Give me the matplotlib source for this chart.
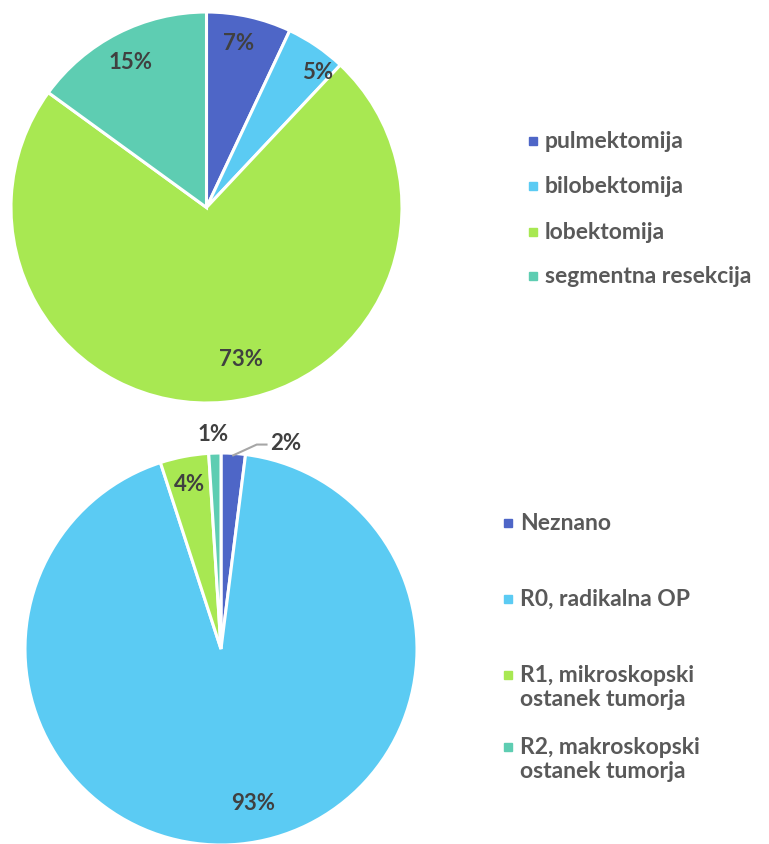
import numpy as np
import matplotlib.pyplot as plt
from matplotlib.patches import Rectangle

plt.rcParams["font.family"] = ["Lato", "DejaVu Sans"]

# top pie: type of resection
top_labels = ["pulmektomija", "bilobektomija", "lobektomija", "segmentna resekcija"]
top_values = [7, 5, 73, 15]
top_colors = ["#4e66c7", "#5bcbf3", "#a8e852", "#5ecdb2"]

# bottom pie: resection margin
bot_labels = ["Neznano", "R0, radikalna OP", "R1, mikroskopski\nostanek tumorja",
              "R2, makroskopski\nostanek tumorja"]
bot_values = [2, 93, 4, 1]
bot_colors = ["#4e66c7", "#5bcbf3", "#a8e852", "#5ecdb2"]

# label placement (fraction of radius, angular nudge in degrees)
top_lab_r = [0.86, 0.90, 0.79, 0.84]
top_lab_shift = [1.5, -5, 7.5, 0.5]
bot_lab_r = [None, 0.80, 0.86, 1.10]
bot_lab_shift = [0, 6.5, 0, 0.3]

W, H = 769, 845
fig = plt.figure(figsize=(W / 100, H / 100), dpi=100)

text_col = "#404040"
leg_col = "#595959"


def pie_axes(cx, cy, r):
    ax = fig.add_axes([(cx - r) / W, 1 - (cy + r) / H, 2 * r / W, 2 * r / H])
    return ax


def draw_pie(ax, values, colors, lab_r, lab_shift):
    wedges, _ = ax.pie(values, colors=colors, startangle=90, counterclock=False,
                       radius=1, wedgeprops=dict(edgecolor="white", linewidth=2.2))
    ax.set_xlim(-1, 1)
    ax.set_ylim(-1, 1)
    ax.set_aspect("equal")
    ax.axis("off")
    for w, v, rr, sh in zip(wedges, values, lab_r, lab_shift):
        if rr is None:
            continue
        mid = np.deg2rad((w.theta1 + w.theta2) / 2 + sh)
        ax.text(rr * np.cos(mid), rr * np.sin(mid), f"{v}%", ha="center", va="center",
                fontsize=16, fontweight="bold", color=text_col, clip_on=False)
    return wedges


def draw_legend(x, ys, labels, colors):
    for y, lab, c in zip(ys, labels, colors):
        fig.patches.append(Rectangle(((x - 4) / W, 1 - (y + 4) / H), 8 / W, 8 / H,
                                     transform=fig.transFigure, color=c))
        fig.text((x + 12) / W, 1 - (y - 11) / H, lab, ha="left", va="top",
                 fontsize=16.5, fontweight="bold", color=leg_col, linespacing=1.2)


ax1 = pie_axes(206.5, 208.5, 195.5)
draw_pie(ax1, top_values, top_colors, top_lab_r, top_lab_shift)
draw_legend(533, [142, 187, 233, 277], top_labels, top_colors)

ax2 = pie_axes(221, 650, 196)
wedges = draw_pie(ax2, bot_values, bot_colors, bot_lab_r, bot_lab_shift)

# leader line for the small "Neznano" slice
w = wedges[0]
mid = np.deg2rad((w.theta1 + w.theta2) / 2)
p0 = (0.99 * np.cos(mid), 0.99 * np.sin(mid))
p1 = (p0[0] + 0.12, p0[1] + 0.055)
p2 = (p1[0] + 0.05, p1[1])
ax2.plot([p0[0], p1[0], p2[0]], [p0[1], p1[1], p2[1]], color="#a6a6a6", lw=1.5,
         clip_on=False)
ax2.text(p2[0] + 0.02, p2[1] + 0.01, f"{bot_values[0]}%", ha="left", va="center",
         fontsize=16, fontweight="bold", color=text_col, clip_on=False)

draw_legend(508, [524, 600, 676, 748], bot_labels, bot_colors)

fig.savefig("out.png", dpi=100)
